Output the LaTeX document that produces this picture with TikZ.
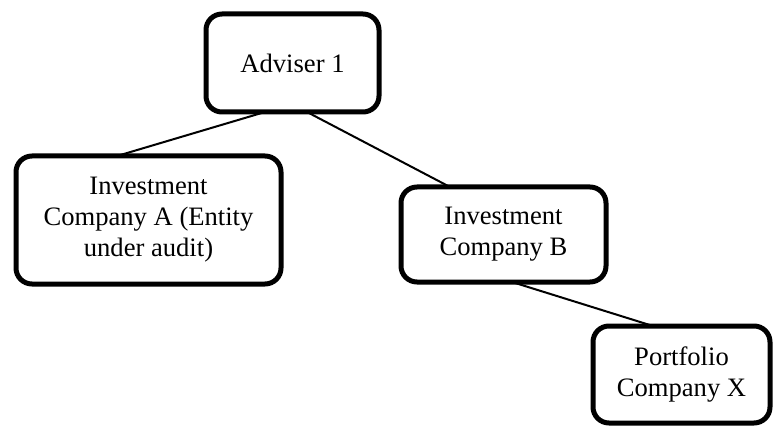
\documentclass[tikz,border=0pt]{standalone}
\usepackage{fontspec}
\setmainfont{Liberation Serif}
\begin{document}
\begin{tikzpicture}[x=1pt,y=1pt,
  box/.style={draw, line width=5pt, rounded corners=16pt, inner sep=0pt, outer sep=0pt,
    align=center, font=\fontsize{26.6}{31}\selectfont},
  link/.style={line width=2pt}]
\useasboundingbox (0,0) rectangle (773,426);
\node[box, minimum width=173pt, minimum height=98pt] (adv) at (292.5,363) {Adviser 1};
\node[box, minimum width=265pt, minimum height=128pt] (ica) at (148.5,206) {Investment\\Company A (Entity\\under audit)};
\node[box, minimum width=205pt, minimum height=95pt] (icb) at (503.5,191.5) {Investment\\Company B};
\node[box, minimum width=177pt, minimum height=97pt] (pcx) at (681.5,51.5) {Portfolio\\Company X};
\draw[link] ([xshift=-27.5pt]adv.south) -- ([xshift=-31.5pt]ica.north);
\draw[link] ([xshift=14.5pt]adv.south) -- ([xshift=-53.5pt]icb.north);
\draw[link] ([xshift=8.5pt]icb.south) -- ([xshift=-28.5pt]pcx.north);
\end{tikzpicture}
\end{document}
